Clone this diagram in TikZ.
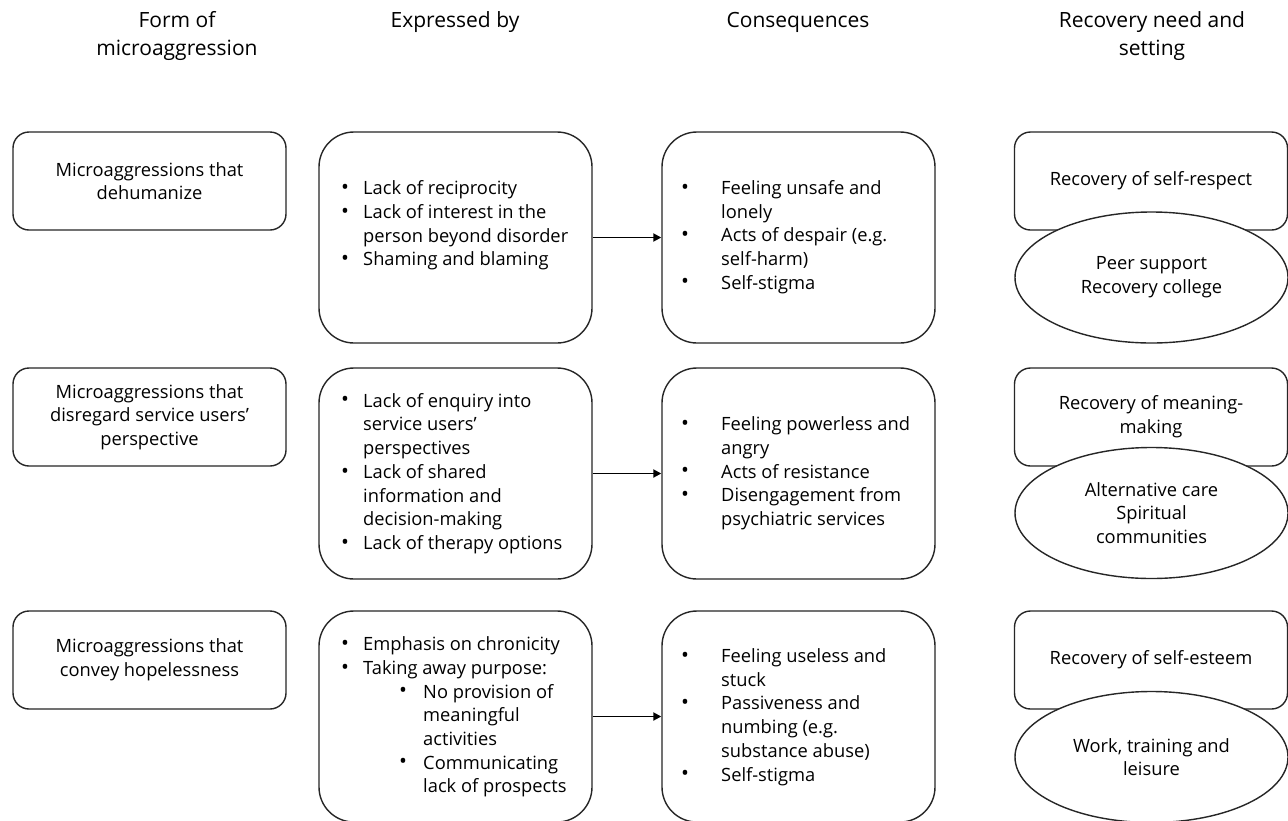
\documentclass[tikz,border=0pt]{standalone}
\usepackage{fontspec}
\setmainfont{Open Sans}
\usetikzlibrary{arrows.meta,shapes.geometric}
\newcommand{\bodyf}{\fontsize{18.3}{23.7}\selectfont}
\newcommand{\headf}{\fontsize{21}{28}\selectfont}
\newcommand{\bul}{\raisebox{0.3pt}{\scalebox{1.15}{•}}}
\newcommand{\bi}[1]{\makebox[22pt][l]{\bul}#1}
\newcommand{\bt}[1]{\hspace*{22pt}#1}
\newcommand{\ci}[1]{\makebox[40pt][l]{\bul}#1}
\newcommand{\ct}[1]{\hspace*{40pt}#1}
\newcommand{\si}[1]{\hspace*{58pt}\makebox[24pt][l]{\bul}#1}
\newcommand{\st}[1]{\hspace*{82pt}#1}
\begin{document}
\begin{tikzpicture}[x=1pt,y=-1pt,
  linecol/.style={draw=black!85, line width=1.4pt},
  shortbox/.style={linecol, rounded corners=16pt, minimum width=273pt, minimum height=98pt, inner sep=0pt, align=center, font=\bodyf},
  tallbox/.style={linecol, rounded corners=35pt, minimum width=273pt, minimum height=211pt, inner sep=0pt},
  ovalbox/.style={linecol, ellipse, fill=white, minimum width=273pt, minimum height=131pt, inner sep=0pt, align=center, font=\bodyf},
  listtxt/.style={anchor=west, inner sep=0pt, align=left, font=\bodyf},
  head/.style={inner sep=0pt, align=center, font=\headf},
  arr/.style={line width=1.8pt, draw=black, -{Triangle[length=8pt,width=8pt]}}
]
\useasboundingbox (0,0) rectangle (1288,820);
\fill[white] (0,0) rectangle (1288,820);

% headers
\node[head] (h1) at (177,36) {Form of\\microaggression};
\node[head] (h2) at (455,22) {Expressed by};
\node[head] (h3) at (798,22) {Consequences};
\node[head] (h4) at (1152,36) {Recovery need and\\setting};

% row 1
\node[shortbox] (f1) at (149.5,181) {Microaggressions that\\dehumanize};
\node[tallbox] (e1) at (455.5,237.5) {};
\node[tallbox] (c1) at (798.5,237.5) {};
\node[shortbox] (r1) at (1151,181) {Recovery of self-respect};
\node[ovalbox] (o1) at (1151.5,277.5) {Peer support\\Recovery college};
\node[listtxt] (e1t) at (341,225.5) {\bi{Lack of reciprocity}\\\bi{Lack of interest in the}\\\bt{person beyond disorder}\\\bi{Shaming and blaming}};
\node[listtxt] (c1t) at (681,237) {\ci{Feeling unsafe and}\\\ct{lonely}\\\ci{Acts of despair (e.g.}\\\ct{self-harm)}\\\ci{Self-stigma}};
\draw[arr] (e1.east) -- (c1.west);

% row 2
\node[shortbox] (f2) at (149.5,417) {Microaggressions that\\disregard service users'\\perspective};
\node[tallbox] (e2) at (455.5,473.5) {};
\node[tallbox] (c2) at (798.5,473.5) {};
\node[shortbox] (r2) at (1151,417) {Recovery of meaning-\\making};
\node[ovalbox] (o2) at (1151.5,513) {Alternative care\\Spiritual\\communities};
\node[listtxt] (e2t) at (341,473.5) {\bi{Lack of enquiry into}\\\bt{service users'}\\\bt{perspectives}\\\bi{Lack of shared}\\\bt{information and}\\\bt{decision-making}\\\bi{Lack of therapy options}};
\node[listtxt] (c2t) at (681,473.5) {\ci{Feeling powerless and}\\\ct{angry}\\\ci{Acts of resistance}\\\ci{Disengagement from}\\\ct{psychiatric services}};
\draw[arr] (e2.east) -- (c2.west);

% row 3
\node[shortbox] (f3) at (149.5,660) {Microaggressions that\\convey hopelessness};
\node[tallbox] (e3) at (455.5,716.5) {};
\node[tallbox] (c3) at (798.5,716.5) {};
\node[shortbox] (r3) at (1151,660) {Recovery of self-esteem};
\node[ovalbox] (o3) at (1151.5,757) {Work, training and\\leisure};
\node[listtxt] (e3t) at (341,717) {\bi{Emphasis on chronicity}\\\bi{Taking away purpose:}\\\si{No provision of}\\\st{meaningful}\\\st{activities}\\\si{Communicating}\\\st{lack of prospects}};
\node[listtxt] (c3t) at (681,717) {\ci{Feeling useless and}\\\ct{stuck}\\\ci{Passiveness and}\\\ct{numbing (e.g.}\\\ct{substance abuse)}\\\ci{Self-stigma}};
\draw[arr] (e3.east) -- (c3.west);
\end{tikzpicture}
\end{document}
